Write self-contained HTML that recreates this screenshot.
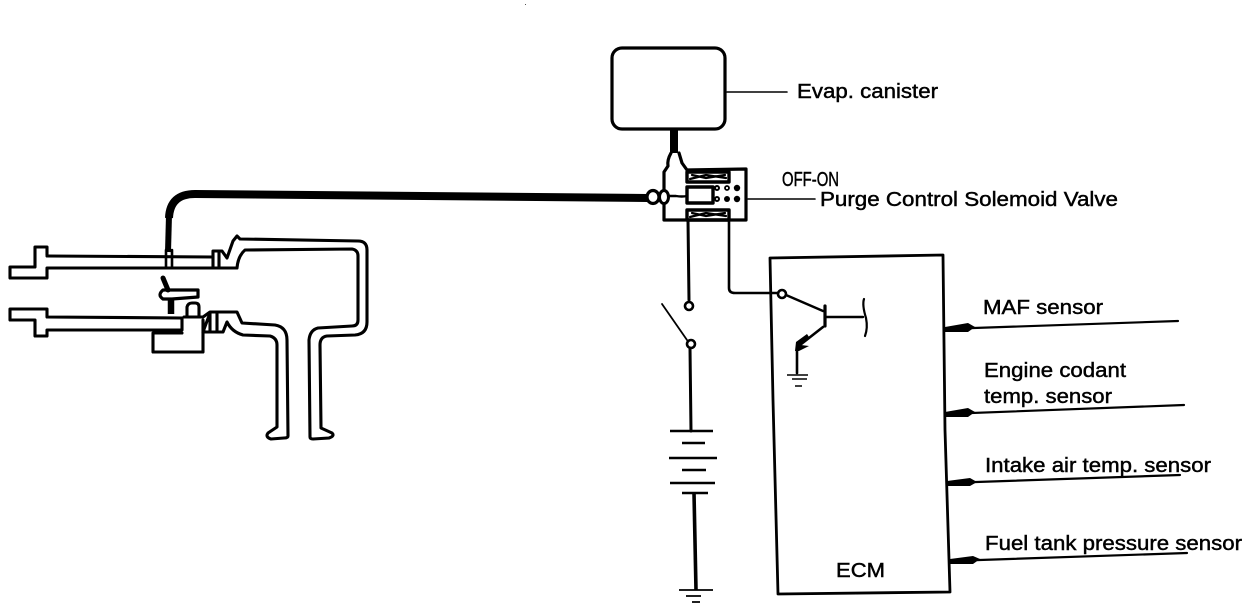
<!DOCTYPE html>
<html><head><meta charset="utf-8"><style>
html,body{margin:0;padding:0;background:#fff}
svg{display:block}
text{font-family:"Liberation Sans",sans-serif;font-size:20px;fill:#000;stroke:#000;stroke-width:.45}
</style></head><body>
<svg width="1248" height="610" viewBox="0 0 1248 610" xmlns="http://www.w3.org/2000/svg">
<rect x="525" y="4" width="1" height="1" fill="#555"/>
<g fill="none" stroke="#000" stroke-width="3.1" stroke-linejoin="round" stroke-linecap="round">
<!-- Upper pipe -->
<path d="M47,255 V247 H35 V267 H10 V278 H47 V268 H237 Q238,256 245,250 L352,249 Q358,250 358,256 V320 Q358,326 352,326 L318,328 Q310,330 309,340 L310,437 Q310,439 313,439 L329,438 Q335,436 332,433 L321,428 L320,345 Q320,337 327,336 L355,335 Q367,334 367,322 V250 Q367,241 358,241 L240,239 L237,236 L233,241 L227,258 L222,251 H213 V267"/>
<path d="M47,256 L213,257 M219,251 V267"/>
<!-- Lower pipe -->
<path d="M182,330 H47 V336 H35 V320 H10 V309 H47 V317 L182,318 V330"/>
<path d="M184,317 H203 L210,312 H237 L242,323 L275,325 Q287,327 287,340 L288,436 Q288,438 284,438 L271,439 Q265,437 268,433 L277,427 V345 Q277,338 270,336 L243,335 Q232,332 227,322 L223,332 H204 L203,320 V352 H153 V333 H182"/>
<path d="M203,332 L210,313 V332 M217,313 V332"/>
<path d="M187,317 V307 Q188,303 192,303 H195 Q199,303 199,307 V317"/>
<!-- Valve handle -->
<path d="M163,290 L198,290 V297 L172,299 L163,299 Q157,295 163,290 Z" stroke-width="3.2"/>
<path d="M163,278 L168,290" stroke-width="5"/>
<path d="M171,300 L171,314" stroke-width="6.5" stroke-linecap="butt"/>
<!-- Thick hose -->
<path d="M648,198 L195,194 Q170,194 169,218" stroke-width="8" stroke-linecap="butt"/>
<path d="M169,215 L168,252" stroke-width="6" stroke-linecap="butt"/>
<path d="M166,250 V267 M172,250 V267" stroke-width="2.6"/>
<!-- Canister -->
<rect x="612" y="48" width="113" height="81" rx="10" ry="10" stroke-width="3.2"/>
<path d="M674,130 V153" stroke-width="8" stroke-linecap="butt"/>
<path d="M727,92 H787" stroke-width="1.6"/>
<!-- Solenoid valve -->
<path d="M671,153 Q667,160 668,166 L664,172 V190 M664,204 V220 H746 V169 L687,170 L682,163 L679,153" stroke-width="3.2"/>
<ellipse cx="653" cy="197" rx="6" ry="6.5" stroke-width="3.2"/>
<ellipse cx="664" cy="197" rx="4.5" ry="6.5" stroke-width="3"/>
<path d="M668,196 H676 Q682,197 687,196" stroke-width="2.4"/>
<rect x="687" y="172" width="42" height="10" stroke-width="3.4"/>
<path d="M690,179 L706,175 L726,178 M692,175 L706,178 L725,175" stroke-width="2.2"/>
<rect x="687" y="187" width="26" height="16" stroke-width="3.4"/>
<rect x="687" y="210" width="42" height="10" stroke-width="3.4"/>
<path d="M690,217 L706,213 L726,216 M692,213 L706,216 L725,213" stroke-width="2.2"/>
<circle cx="717" cy="188" r="2" stroke-width="2"/>
<circle cx="717" cy="199" r="2" stroke-width="2"/>
<circle cx="727" cy="188" r="2" stroke-width="1.8"/>
<path d="M748,199 H815" stroke-width="1.6"/>
<!-- Wires to valve -->
<path d="M688,220 L689,300" stroke-width="3"/>
<path d="M729,220 V288 Q729,293 735,293 H778" stroke-width="2.6"/>
<!-- Switch -->
<circle cx="689" cy="306" r="4" stroke-width="2.6"/>
<circle cx="691" cy="344" r="4" stroke-width="2.6"/>
<path d="M662,304 L687,340" stroke-width="1.8"/>
<path d="M690,348 L691,431" stroke-width="3"/>
<!-- Battery -->
<path d="M670,431 H713 M682,443 H705 M669,458 H717 M682,470 H706 M670,483 H715 M682,493 H708" stroke-width="2.6" stroke-linecap="butt"/>
<path d="M694,493 L696,590" stroke-width="3.6" stroke-linecap="butt"/>
<path d="M679,590 H713 M686,596 H701 M692,602 H700" stroke-width="1.8" stroke-linecap="butt"/>
<!-- ECM -->
<path d="M770,258 L943,255 L945,430 L950,592 L778,594 L773,400 Z" stroke-width="2.8"/>
<!-- Transistor -->
<circle cx="782" cy="294" r="4" stroke-width="2.6"/>
<path d="M786,295 L823,311" stroke-width="2.4"/>
<path d="M825,306 V326" stroke-width="3.2"/>
<path d="M825,317 H863" stroke-width="2.4"/>
<path d="M864,299 Q862,305 866,318 Q868,328 865,336" stroke-width="2.2"/>
<path d="M823,327 L800,345" stroke-width="2.6"/>
<path d="M797,349 V373" stroke-width="2.6"/>
<path d="M787,375 H808 M792,379 H807 M795,386 H802" stroke-width="1.6" stroke-linecap="butt"/>
<!-- Sensor lines -->
<path d="M945,329 L1178,321 M945,414 L1184,405 M947,483 L1180,475 M950,561 L1187,553" stroke-width="2.2"/>
</g>
<path d="M807,334 L796,342 L795,351 L799,351 L809,346 L801,345 L809,337 Z" fill="#000"/>
<g fill="#000">
<path d="M945,327 L968,323 L975,327 L968,332 L945,332 Z"/>
<path d="M945,412 L968,408 L975,412 L968,417 L945,417 Z"/>
<path d="M947,481 L970,478 L977,482 L970,486 L947,486 Z"/>
<path d="M950,559 L973,556 L980,559 L973,564 L950,564 Z"/>
<circle cx="727" cy="199" r="3"/><circle cx="737" cy="199" r="3.2"/><circle cx="737" cy="188" r="3.2"/>
</g>
<g>
<text x="797" y="98" textLength="141" lengthAdjust="spacingAndGlyphs">Evap. canister</text>
<text x="782" y="186" textLength="57" lengthAdjust="spacingAndGlyphs">OFF-ON</text>
<text x="820" y="206" textLength="298" lengthAdjust="spacingAndGlyphs">Purge Control Solemoid Valve</text>
<text x="983" y="314" textLength="120" lengthAdjust="spacingAndGlyphs">MAF sensor</text>
<text x="984" y="377" textLength="142" lengthAdjust="spacingAndGlyphs">Engine codant</text>
<text x="984" y="403" textLength="128" lengthAdjust="spacingAndGlyphs">temp. sensor</text>
<text x="985" y="472" textLength="226" lengthAdjust="spacingAndGlyphs">Intake air temp. sensor</text>
<text x="985" y="550" textLength="257" lengthAdjust="spacingAndGlyphs">Fuel tank pressure sensor</text>
<text x="836" y="577" textLength="49" lengthAdjust="spacingAndGlyphs">ECM</text>
</g>
</svg>
</body></html>
